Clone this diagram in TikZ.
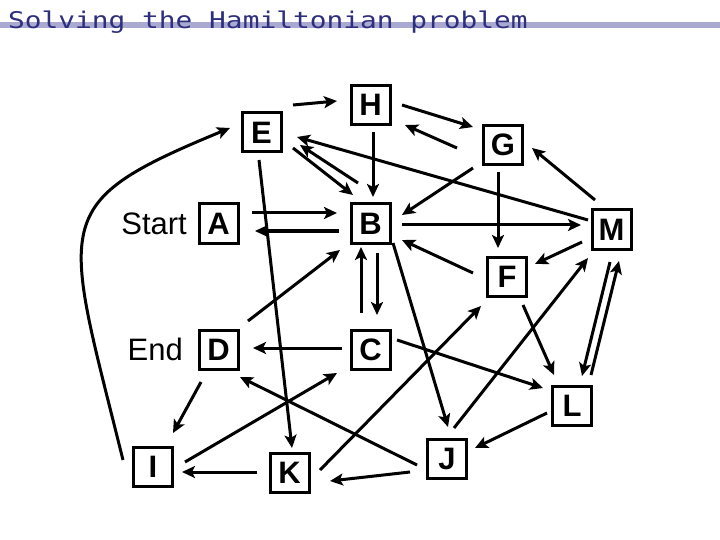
\documentclass[tikz,border=0pt]{standalone}
\usepackage{fontspec}
\setmainfont{Liberation Sans}
\newfontfamily\titlefont[FakeStretch=1.21]{DejaVu Sans Mono}
\usetikzlibrary{arrows.meta}
\definecolor{titleblue}{HTML}{2E2E7E}
\definecolor{barblue}{HTML}{A9A9D1}
\begin{document}
\begin{tikzpicture}[x=1pt,y=-1pt,
  box/.style={draw,line width=3pt,minimum size=39pt,inner sep=0pt,
    font=\fontsize{31}{31}\selectfont\bfseries},
  lbl/.style={inner sep=0pt,font=\fontsize{31}{31}\selectfont},
  arr/.style={line width=3pt,-{Stealth[length=13pt,width=12pt,inset=3pt]}}]
\useasboundingbox (0,0) rectangle (720,540);
\fill[white] (0,0) rectangle (720,540);
% title
\fill[barblue] (0,22.5) rectangle (720,28.5);
\node[anchor=base west,inner sep=0pt,text=titleblue,
  font=\titlefont\fontsize{23}{23}\selectfont] (title) at (8,28.5)
  {Solving the Hamiltonian problem};
% nodes
\node[box] (A) at (218.5,223.5) {A};
\node[box] (B) at (370.5,223.5) {B};
\node[box] (C) at (370.5,349.5) {C};
\node[box] (D) at (218.5,349.5) {D};
\node[box] (E) at (261.5,132.5) {E};
\node[box] (F) at (507,277) {F};
\node[box] (G) at (503,145) {G};
\node[box] (H) at (370.5,105) {H};
\node[box] (I) at (153,466.5) {I};
\node[box] (J) at (447,458.5) {J};
\node[box] (K) at (289.5,473) {K};
\node[box] (L) at (572,406) {L};
\node[box] (M) at (611.5,229.5) {M};
\node[lbl,anchor=east] (start) at (187,224) {Start};
\node[lbl,anchor=east] (end) at (183,349) {End};
% connectors
\draw[arr] ([shift={(31.5,-27.5)}]E.center) -- ([shift={(-33.5,-4)}]H.center);
\draw[arr] ([shift={(31.5,0)}]H.center) -- ([shift={(-30,-18)}]G.center);
\draw[arr] ([shift={(-46,3)}]G.center) -- ([shift={(34.5,20)}]H.center);
\draw[arr] ([shift={(2.5,27)}]H.center) -- ([shift={(2.5,-26.5)}]B.center);
\draw[arr] ([shift={(31.5,15.5)}]E.center) -- ([shift={(-17.5,-28.5)}]B.center);
\draw[arr] ([shift={(-12.5,-40.5)}]B.center) -- ([shift={(38.5,12.5)}]E.center);
\draw[arr] ([shift={(-23.5,-9.5)}]M.center) -- ([shift={(35.5,4.5)}]E.center);
\draw[arr] ([shift={(33.5,-10.5)}]A.center) -- ([shift={(-33.5,-10.5)}]B.center);
\draw[arr] ([shift={(-31.5,7.5)}]B.center) -- ([shift={(36.5,7.5)}]A.center);
\draw[arr] ([shift={(-30,23)}]G.center) -- ([shift={(31.5,-8.5)}]B.center);
\draw[arr] ([shift={(31.5,1.5)}]B.center) -- ([shift={(-30.5,-4.5)}]M.center);
\draw[arr] ([shift={(-5,27)}]G.center) -- ([shift={(-9,-29)}]F.center);
\draw[arr] ([shift={(-16.5,-29.5)}]M.center) -- ([shift={(29,3)}]G.center);
\draw[arr] ([shift={(-34,-4)}]F.center) -- ([shift={(31.5,16.5)}]B.center);
\draw[arr] ([shift={(-29.5,12.5)}]M.center) -- ([shift={(28,-13)}]F.center);
\draw[arr] ([shift={(6.5,29.5)}]B.center) -- ([shift={(6.5,-34.5)}]C.center);
\draw[arr] ([shift={(-9.5,-36.5)}]C.center) -- ([shift={(-9.5,23.5)}]B.center);
\draw[arr] ([shift={(22.5,19.5)}]B.center) -- ([shift={(1,-31.5)}]J.center);
\draw[arr] ([shift={(-2.5,27.5)}]E.center) -- ([shift={(2.5,-25)}]K.center);
\draw[arr] ([shift={(29.5,-28.5)}]D.center) -- ([shift={(-30.5,26.5)}]B.center);
\draw[arr] ([shift={(-28.5,-1.5)}]C.center) -- ([shift={(34.5,-1.5)}]D.center);
\draw[arr] ([shift={(32,-4.5)}]I.center) -- ([shift={(-33.5,23.5)}]C.center);
\draw[arr] ([shift={(-30,6.5)}]J.center) -- ([shift={(21.5,27.5)}]D.center);
\draw[arr] ([shift={(-17.5,32.5)}]D.center) -- ([shift={(20,-33.5)}]I.center);
\draw[arr] ([shift={(-32.5,-1)}]K.center) -- ([shift={(29,5.5)}]I.center);
\draw[arr] ([shift={(-37,13.5)}]J.center) -- ([shift={(40.5,8)}]K.center);
\draw[arr] ([shift={(30.5,-3)}]K.center) -- ([shift={(-26,29)}]F.center);
\draw[arr] ([shift={(7,-30.5)}]J.center) -- ([shift={(-23.5,28.5)}]M.center);
\draw[arr] ([shift={(26.5,-9.5)}]C.center) -- ([shift={(-29,-18)}]L.center);
\draw[arr] ([shift={(16,28)}]F.center) -- ([shift={(-18,-31)}]L.center);
\draw[arr] ([shift={(-1.5,32.5)}]M.center) -- ([shift={(10,-30)}]L.center);
\draw[arr] ([shift={(19,-31)}]L.center) -- ([shift={(7.5,31.5)}]M.center);
\draw[arr] ([shift={(-25,7)}]L.center) -- ([shift={(28,-10.5)}]J.center);
\draw[arr] ([shift={(-30,-6.5)}]I.center) .. controls (63,218) and (46,204) .. ([shift={(-31.5,-4.5)}]E.center);
\end{tikzpicture}
\end{document}
